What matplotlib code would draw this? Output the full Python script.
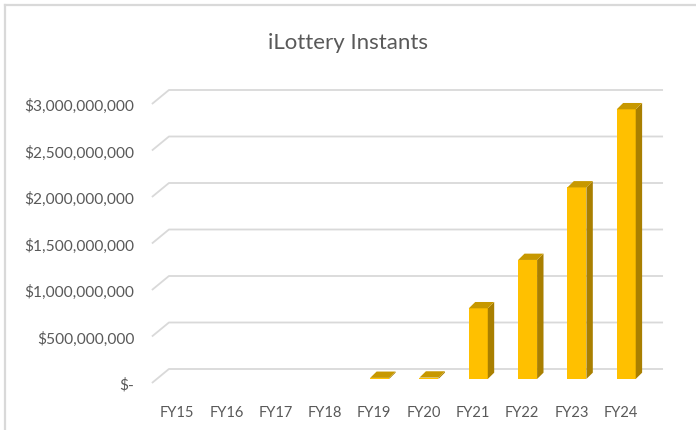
import numpy as np
import matplotlib.pyplot as plt
from matplotlib.patches import Polygon
from matplotlib.lines import Line2D

plt.rcParams['font.family'] = ['Lato', 'DejaVu Sans']

# data
years = ['FY15', 'FY16', 'FY17', 'FY18', 'FY19', 'FY20', 'FY21', 'FY22', 'FY23', 'FY24']
sales = [0, 0, 0, 0, 12e6, 15e6, 760e6, 1280e6, 2060e6, 2900e6]
ticks = [0, 500e6, 1000e6, 1500e6, 2000e6, 2500e6, 3000e6]
tick_labels = ['$-', '$500,000,000', '$1,000,000,000', '$1,500,000,000',
               '$2,000,000,000', '$2,500,000,000', '$3,000,000,000']

front = '#FFC000'
side = '#A97F00'
top = '#C79800'
grid = '#D9D9D9'
text_col = '#595959'

fig = plt.figure(figsize=(6.96, 4.31), dpi=100)
ax = fig.add_axes([0.209, 0.0752, 0.7545, 0.7336])
ax.set_xlim(-0.75, 9.9)
ax.set_ylim(-0.2e9, 3.2e9)
for s in ax.spines.values():
    s.set_visible(False)

# 3d-ish offsets (data units)
w = 0.385
dx, dy = 0.13, 0.068e9
wall_dy = 0.1075e9
floor_dy = -0.043e9

# back wall gridlines with the floor diagonal
for t in ticks:
    ax.plot([-0.619, -0.274, 9.746], [t + floor_dy, t + wall_dy, t + wall_dy],
            color=grid, lw=1.3, zorder=1, solid_capstyle='butt')

x = np.arange(len(years))
ax.bar(x, sales, width=w, color=front, zorder=3)
for xi, v in zip(x, sales):
    if v <= 0:
        continue
    r = xi + w / 2
    l = xi - w / 2
    ax.add_patch(Polygon([(r, 0), (r + dx, dy), (r + dx, v + dy), (r, v)],
                         closed=True, color=side, lw=0, zorder=3))
    ax.add_patch(Polygon([(l, v), (r, v), (r + dx, v + dy), (l + dx, v + dy)],
                         closed=True, color=top, lw=0, zorder=3))

ax.set_yticks([t + floor_dy for t in ticks])
ax.set_yticklabels(tick_labels)
ax.set_xticks(x - 0.11)
ax.set_xticklabels(years)
ax.tick_params(axis='both', length=0, labelcolor=text_col)
ax.tick_params(axis='y', pad=8, labelsize=11.2)
ax.tick_params(axis='x', pad=5, labelsize=10.6)

fig.text(0.5, 0.9, 'iLottery Instants', ha='center', va='center',
         fontsize=16, color=text_col)

# chart border
fig.add_artist(Line2D([4.5 / 696, 1], [1 - 6 / 431, 1 - 6 / 431],
                      transform=fig.transFigure, color=grid, lw=1.6))
fig.add_artist(Line2D([4.5 / 696, 4.5 / 696], [0, 1 - 6 / 431],
                      transform=fig.transFigure, color=grid, lw=1.6))

fig.savefig('out.png', dpi=100)
